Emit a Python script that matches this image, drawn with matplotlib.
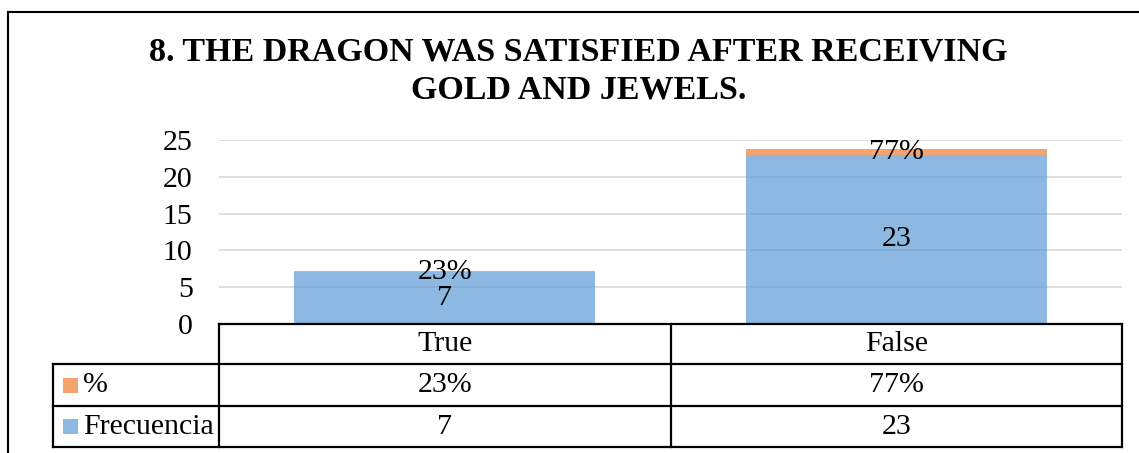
import matplotlib
matplotlib.use("Agg")
import matplotlib.pyplot as plt
from matplotlib.lines import Line2D
from matplotlib.patches import Rectangle

plt.rcParams['font.family'] = ['Liberation Serif', 'DejaVu Serif']

# ---- data ----
categories = ["True", "False"]
frecuencia = [7, 23]
porcentaje = [0.23, 0.77]
pct_labels = ["23%", "77%"]
series_names = ["%", "Frecuencia"]
title = "8. THE DRAGON WAS SATISFIED AFTER RECEIVING\nGOLD AND JEWELS."
yticks = [0, 5, 10, 15, 20, 25]

W, H = 1139, 453
fig = plt.figure(figsize=(W / 100, H / 100), dpi=100)

def fx(px):
    return px / W

def fy(py):
    return 1 - py / H

blue = '#5B9BD5'
orange = '#ED7D31'

# plot area
x0, x1, ytop, ybot = 219, 1122, 140, 324
ax = fig.add_axes([fx(x0), fy(ybot), fx(x1 - x0), (ybot - ytop) / H])
ax.set_xlim(-0.5, 1.5)
ax.set_ylim(0, 25)
ax.set_yticks(yticks)
ax.set_xticks([])
ax.yaxis.grid(True, color='#d9d9d9', lw=1.2)
ax.set_axisbelow(True)
for s in ax.spines.values():
    s.set_visible(False)
ax.tick_params(axis='y', length=0, pad=19, labelsize=21.5)

xs = list(range(len(categories)))
ax.bar(xs, frecuencia, width=0.667, color=blue, alpha=0.7, zorder=2)
ax.bar(xs, porcentaje, width=0.667, bottom=frecuencia, color=orange, alpha=0.7, zorder=2)
for x, f, p, pl in zip(xs, frecuencia, porcentaje, pct_labels):
    ax.text(x, f / 2, str(f), ha='center', va='center', fontsize=21.5, zorder=3)
    ax.text(x, f + p / 2, pl, ha='center', va='center', fontsize=21.5, zorder=3)

# title
fig.text(fx(578.5), fy(71), title, ha='center', va='center', fontsize=24.5,
         fontweight='bold', linespacing=1.32)

# outer border (left and top)
lw_b = 1.5
fig.add_artist(Line2D([fx(8), fx(8)], [fy(12), 0], color='black', lw=lw_b))
fig.add_artist(Line2D([fx(8), 1], [fy(12), fy(12)], color='black', lw=lw_b))

# data table
lw_t = 1.6
tl, mid, tr = 53, (x0 + x1) / 2, x1
r0, r1, r2, r3 = 324, 364, 406, 447

def hline(xa, xb, y):
    fig.add_artist(Line2D([fx(xa), fx(xb)], [fy(y), fy(y)], color='black', lw=lw_t))

def vline(x, ya, yb):
    fig.add_artist(Line2D([fx(x), fx(x)], [fy(ya), fy(yb)], color='black', lw=lw_t))

hline(x0, tr, r0)
hline(tl, tr, r1)
hline(tl, tr, r2)
hline(tl, tr, r3)
vline(x0, r0, r3)
vline(mid, r0, r3)
vline(tr, r0, r3)
vline(tl, r1, r3)

col_centers = [(x0 + mid) / 2, (mid + tr) / 2]
for cx, cat in zip(col_centers, categories):
    fig.text(fx(cx), fy((r0 + r1) / 2), cat, ha='center', va='center', fontsize=21.5)
for cx, pl in zip(col_centers, pct_labels):
    fig.text(fx(cx), fy((r1 + r2) / 2), pl, ha='center', va='center', fontsize=21.5)
for cx, f in zip(col_centers, frecuencia):
    fig.text(fx(cx), fy((r2 + r3) / 2), str(f), ha='center', va='center', fontsize=21.5)

# legend keys in table rows
for (ya, yb), name, col in zip([(r1, r2), (r2, r3)], series_names, [orange, blue]):
    cy = (ya + yb) / 2
    fig.add_artist(Rectangle((fx(63), fy(cy + 7.5)), fx(15), 15 / H,
                             facecolor=col, alpha=0.7, edgecolor='none'))
    fig.text(fx(83), fy(cy), name, ha='left', va='center', fontsize=21.5)

fig.savefig('out.png', dpi=100)
